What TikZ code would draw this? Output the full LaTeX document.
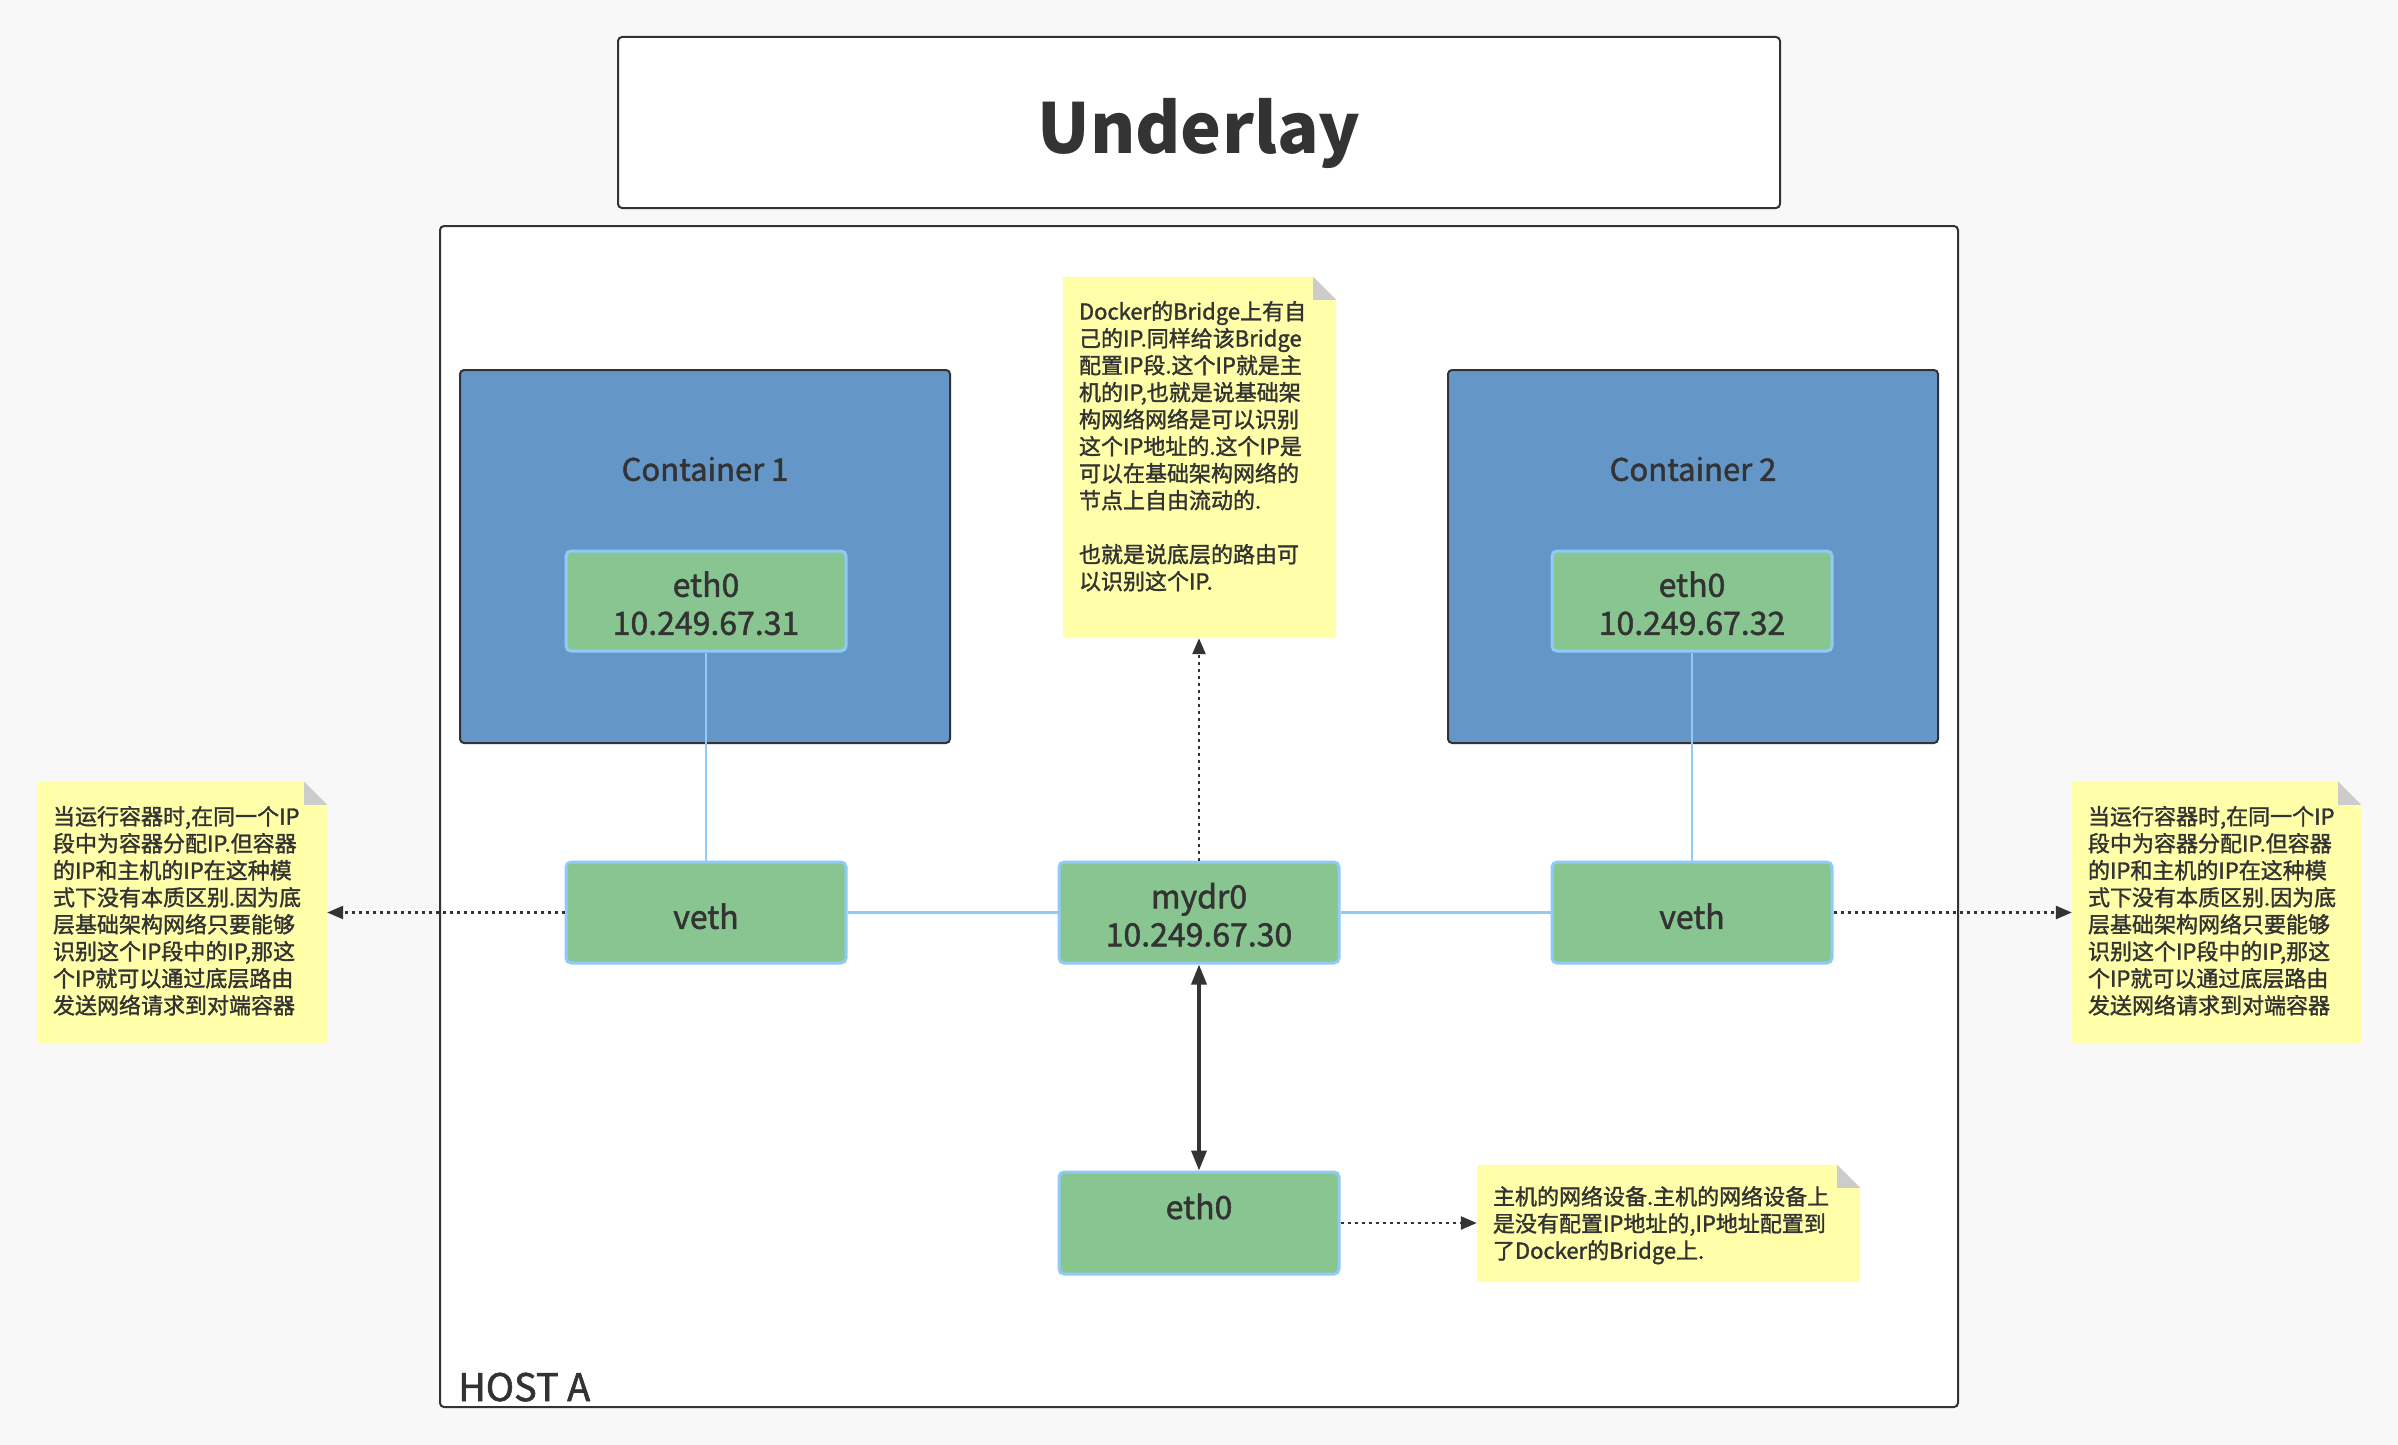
\documentclass[tikz,border=0pt]{standalone}
\usepackage{fontspec}
\setmainfont{Noto Sans CJK SC}
\newfontfamily\medfont{Noto Sans CJK SC}[FakeBold=1.5]
\usetikzlibrary{arrows.meta,calc}
\definecolor{bg}{HTML}{F8F8F8}
\definecolor{ink}{HTML}{333333}
\definecolor{cblue}{HTML}{6496C8}
\definecolor{gfill}{HTML}{88C591}
\definecolor{gline}{HTML}{90CAF9}
\definecolor{notey}{HTML}{FFFFAA}
\definecolor{fold}{HTML}{CCCCCC}
\tikzset{
  box/.style={draw=ink,line width=2pt,rounded corners=4pt,inner sep=0pt},
  cont/.style={box,fill=cblue,minimum width=490pt,minimum height=373pt},
  gbox/.style={draw=gline,fill=gfill,line width=3pt,rounded corners=5pt,minimum width=280pt,minimum height=101pt,inner sep=0pt,align=center,font=\medfont\fontsize{32}{38}\selectfont,text=ink},
  notebg/.style={inner sep=0pt},
  notetxt/.style={inner sep=0pt,anchor=north west,align=left,font=\medfont\fontsize{22}{27}\selectfont,text=ink},
  blink/.style={draw=gline,line width=2.5pt},
  dotarrow/.style={draw=ink,line width=2.5pt,dash pattern=on 3pt off 4pt,-{Triangle[length=16pt,width=13pt]}},
}
\newcommand{\notefill}[1]{%
  \fill[notey] (#1.south west) -- (#1.north west) -- ($(#1.north east)+(-23,0)$) -- ($(#1.north east)+(0,23)$) -- (#1.south east) -- cycle;
  \fill[fold] ($(#1.north east)+(-23,0)$) -- ($(#1.north east)+(-23,23)$) -- ($(#1.north east)+(0,23)$) -- cycle;}
\begin{document}
\begin{tikzpicture}[x=1pt,y=-1pt]
\fill[bg] (0,0) rectangle (2398,1445);
\useasboundingbox (0,0) rectangle (2398,1445);

% title
\node[box,fill=white,minimum width=1162pt,minimum height=171pt] (title) at (1199,122.5) {};
\node[inner sep=0pt,font=\fontsize{69}{80}\selectfont\bfseries,text=ink] (titlel) at (1199,133) {Underlay};
% host
\node[box,fill=white,minimum width=1518pt,minimum height=1181pt] (host) at (1199,816.5) {};
\node[anchor=base west,inner sep=0pt,font=\medfont\fontsize{38}{44}\selectfont,text=ink] (hostlbl) at (458,1401) {HOST A};

% containers
\node[cont] (c1) at (705,556.5) {};
\node[cont] (c2) at (1693,556.5) {};
\node[font=\medfont\fontsize{31}{38}\selectfont,text=ink,inner sep=0pt] (c1l) at (705,469) {Container 1};
\node[font=\medfont\fontsize{31}{38}\selectfont,text=ink,inner sep=0pt] (c2l) at (1693,469) {Container 2};

% green boxes
\node[gbox,minimum height=100pt] (e1) at (706,601) {\rule{0pt}{30pt}eth0\\10.249.67.31};
\node[gbox,minimum height=100pt] (e2) at (1692,601) {\rule{0pt}{30pt}eth0\\10.249.67.32};
\node[gbox] (v1) at (706,912.5) {\rule{0pt}{33pt}veth};
\node[gbox] (br) at (1199,912.5) {\rule{0pt}{30pt}mydr0\\10.249.67.30};
\node[gbox] (v2) at (1692,912.5) {\rule{0pt}{33pt}veth};
\node[gbox,minimum height=102pt] (e0) at (1199,1223) {\rule{0pt}{30pt}eth0\\\mbox{}};

% notes
\node[notebg,minimum width=273pt,minimum height=361pt] (nt) at (1199.5,457.5) {};
\node[notebg,minimum width=290pt,minimum height=261pt] (nl) at (182,912.5) {};
\node[notebg,minimum width=289pt,minimum height=261pt] (nr) at (2216.5,912.5) {};
\node[notebg,minimum width=383pt,minimum height=117pt] (nb) at (1668.5,1223.5) {};
\notefill{nt}
\notefill{nl}
\notefill{nr}
\notefill{nb}

\node[notetxt] (ntt) at ($(nt.north west)+(16,24)$) {Docker的Bridge上有自\\己的IP.同样给该Bridge\\配置IP段.这个IP就是主\\机的IP,也就是说基础架\\构网络网络是可以识别\\这个IP地址的.这个IP是\\可以在基础架构网络的\\节点上自由流动的.\\\mbox{}\\也就是说底层的路由可\\以识别这个IP.};
\node[notetxt] (nlt) at ($(nl.north west)+(16,24)$) {当运行容器时,在同一个IP\\段中为容器分配IP.但容器\\的IP和主机的IP在这种模\\式下没有本质区别.因为底\\层基础架构网络只要能够\\识别这个IP段中的IP,那这\\个IP就可以通过底层路由\\发送网络请求到对端容器};
\node[notetxt] (nrt) at ($(nr.north west)+(16,24)$) {当运行容器时,在同一个IP\\段中为容器分配IP.但容器\\的IP和主机的IP在这种模\\式下没有本质区别.因为底\\层基础架构网络只要能够\\识别这个IP段中的IP,那这\\个IP就可以通过底层路由\\发送网络请求到对端容器};
\node[notetxt] (nbt) at ($(nb.north west)+(16,21)$) {主机的网络设备.主机的网络设备上\\是没有配置IP地址的,IP地址配置到\\了Docker的Bridge上.};

% blue links
\draw[blink] (e1.south) -- (v1.north);
\draw[blink] (e2.south) -- (v2.north);
\draw[blink] (v1.east) -- (br.west);
\draw[blink] (br.east) -- (v2.west);

% dotted arrows
\draw[dotarrow] (v1.west) -- (nl.east);
\draw[dotarrow] (v2.east) -- (nr.west);
\draw[dotarrow] (br.north) -- (br.north |- nt.south);
\draw[dotarrow] (e0.east) -- (e0.east -| nb.west);

% double arrow
\draw[draw=ink,line width=3.5pt,{Triangle[length=20pt,width=15pt]}-{Triangle[length=20pt,width=15pt]}] (br.south) -- (e0.north);
\end{tikzpicture}
\end{document}
